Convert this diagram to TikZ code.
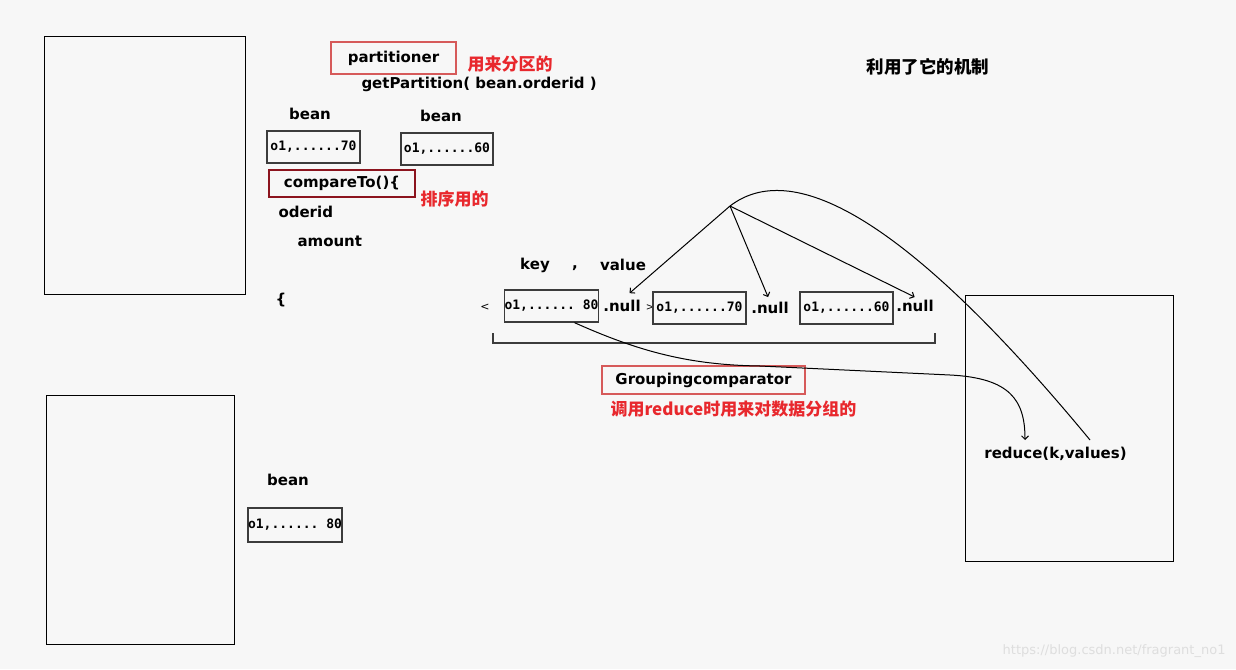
\documentclass[tikz,border=0pt]{standalone}
\usepackage{fontspec}
\setmainfont{DejaVu Sans}
\setmonofont{DejaVu Sans Mono}
\newfontfamily\cjk{Noto Sans CJK SC}
\usetikzlibrary{arrows.meta}
\definecolor{bgcol}{RGB}{247,247,247}
\definecolor{notered}{RGB}{232,40,45}
\definecolor{boxred}{RGB}{214,90,90}
\definecolor{darkred}{RGB}{140,20,30}
\definecolor{linegray}{RGB}{60,60,60}

\begin{document}
\begin{tikzpicture}[x=1pt, y=-1pt, >=Straight Barb, line width=1pt,
    every node/.style={font=\fontsize{15}{17}\selectfont\bfseries, inner sep=0pt},
    frame/.style={draw=black, line width=1.3pt, anchor=north west},
    keybox/.style={draw=linegray, line width=1.3pt, minimum width=93, minimum height=32,
        font=\fontsize{13}{15}\selectfont\ttfamily\bfseries},
    redbox/.style={draw=boxred, line width=1.2pt, minimum height=30},
    note/.style={text=notered, anchor=west, font=\fontsize{17}{19}\selectfont\cjk\bfseries}]
    % Fondo
    \fill[bgcol] (0,0) rectangle (1236,669);
    \useasboundingbox (0,0) rectangle (1236,669);

    % Map tasks and reduce task
    \node[frame, minimum width=201, minimum height=258] (mapA) at (44,36) {};
    \node[frame, minimum width=188, minimum height=249] (mapB) at (46,395) {};
    \node[frame, minimum width=208, minimum height=266] (reduceBox) at (965,295) {};

    % Partitioner
    \node[redbox, minimum width=125, minimum height=32] (part) at (393.5,58) {partitioner};
    \node[note] (partnote) at (467,64) {用来分区的};
    \node[anchor=west] (getp) at (361,84) {getPartition( bean.orderid )};

    % Beans
    \node (bean1) at (310,114) {bean};
    \node (bean2) at (441,116) {bean};
    \node[keybox] (b70) at (313.5,147) {o1,......70};
    \node[keybox, minimum width=92] (b60) at (447,149) {o1,......60};

    % compareTo
    \node[redbox, draw=darkred, minimum width=146, minimum height=27] (cmp) at (342,183.5) {compareTo()\{};
    \node[note] (cmpnote) at (420,199) {排序用的};
    \node[anchor=west] (oderid) at (278,212) {oderid};
    \node[anchor=west] (amount) at (297,241) {amount};
    \node (brace) at (281,300) {\{};

    % key , value
    \node (key) at (535,265) {key};
    \node (comma) at (575,268) {,};
    \node (value) at (623,265) {value};
    \node[font=\fontsize{11}{13}\selectfont] (lt) at (485,307) {<};
    \node[keybox] (k80) at (551.5,306) {o1,...... 80};
    \node (null1) at (622,306) {.null};
    \node[font=\fontsize{10}{12}\selectfont] (gt) at (650,308) {>};
    \node[keybox] (k70) at (699.5,308) {o1,......70};
    \node (null2) at (770,308) {.null};
    \node[keybox] (k60) at (846.5,308) {o1,......60};
    \node (null3) at (915,306) {.null};
    \draw[linegray, line width=1.2pt] (493,333) -- (493,343) -- (935,343) -- (935,333);

    % Grouping comparator
    \node[redbox, minimum width=203, minimum height=28] (group) at (703.5,380) {Groupingcomparator};
    \node[note] (groupnote) at (610,409) {调用reduce时用来对数据分组的};

    % Reduce
    \node (red) at (1055.5,454) {reduce(k,values)};
    \node[anchor=west, font=\fontsize{17.5}{19}\selectfont\cjk\bfseries] (mech) at (866,67) {利用了它的机制};

    % Flechas
    \coordinate (apex) at (730,206);
    \coordinate (arcend) at (1090,440);
    \coordinate (rin) at (1025,440);
    \draw[->, shorten >=10pt] (apex) -- (null1.north);
    \draw[->, shorten >=5pt] (apex) -- (null2.north);
    \draw[->, shorten >=6pt] (apex) -- ([xshift=5]null3.north);
    \draw (apex) .. controls (790,160) and (900,210) .. (arcend);
    \draw[->] ([xshift=23]k80.south) .. controls (640,352) and (690,365) .. (760,366)
        -- (950,375) .. controls (1010,378) and (1025,400) .. (rin);

    % Segundo map
    \node (bean3) at (288,480) {bean};
    \node[keybox, minimum width=92, minimum height=34] (b80) at (295,525) {o1,...... 80};

    \node[anchor=east, text=black!13, font=\fontsize{13}{15}\selectfont] (wm) at (1226,651) {https://blog.csdn.net/fragrant\_no1};
\end{tikzpicture}
\end{document}
